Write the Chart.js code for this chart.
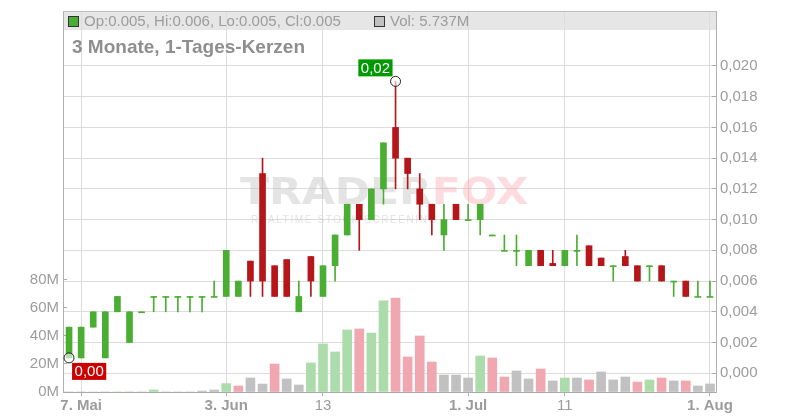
<!DOCTYPE html>
<html><head><meta charset="utf-8">
<style>html,body{margin:0;padding:0;background:#fff;}canvas{display:block;}</style>
<script src="https://cdn.jsdelivr.net/npm/chart.js@4.4.1/dist/chart.umd.min.js"></script>
</head><body>
<canvas id="c" width="800" height="420"></canvas>
<script>
// ---- data ----
const dates = ['2024-05-06','2024-05-07','2024-05-08','2024-05-10','2024-05-13','2024-05-14','2024-05-16','2024-05-17','2024-05-21','2024-05-22','2024-05-24','2024-05-28','2024-05-31',
'2024-06-03','2024-06-04','2024-06-05','2024-06-06','2024-06-07','2024-06-10','2024-06-11','2024-06-12','2024-06-13','2024-06-14','2024-06-17','2024-06-18','2024-06-19','2024-06-20','2024-06-21','2024-06-24','2024-06-25','2024-06-26','2024-06-27','2024-06-28',
'2024-07-01','2024-07-02','2024-07-03','2024-07-04','2024-07-05','2024-07-08','2024-07-09','2024-07-10','2024-07-11','2024-07-12','2024-07-15','2024-07-17','2024-07-18','2024-07-22','2024-07-23','2024-07-25','2024-07-26','2024-07-29','2024-07-30','2024-07-31','2024-08-01'];
const openP  = [0.001,0.001,0.003,0.001,0.004,0.002,0.004,0.005,0.005,0.005,0.005,0.005,0.005,0.005,0.005,0.0073,0.013,0.007,0.0074,0.004,0.0076,0.005,0.007,0.009,0.011,0.010,0.012,0.016,0.014,0.012,0.011,0.009,0.011,0.010,0.010,0.009,0.008,0.008,0.007,0.008,0.00715,0.007,0.008,0.0083,0.0075,0.007,0.0076,0.007,0.007,0.007,0.006,0.006,0.005,0.005];
const highP  = [0.003,0.003,0.004,0.004,0.005,0.004,0.004,0.005,0.005,0.005,0.005,0.005,0.006,0.008,0.006,0.0073,0.014,0.007,0.0074,0.006,0.0076,0.007,0.009,0.011,0.011,0.012,0.015,0.019,0.014,0.013,0.011,0.011,0.011,0.011,0.011,0.009,0.009,0.009,0.008,0.008,0.008,0.008,0.009,0.0083,0.0075,0.007,0.008,0.007,0.007,0.007,0.006,0.006,0.006,0.006];
const lowP   = [0.001,0.001,0.003,0.001,0.004,0.002,0.004,0.004,0.004,0.004,0.004,0.004,0.005,0.005,0.005,0.005,0.005,0.005,0.005,0.004,0.005,0.005,0.006,0.009,0.008,0.010,0.011,0.012,0.012,0.010,0.009,0.008,0.010,0.010,0.009,0.009,0.008,0.007,0.007,0.007,0.007,0.007,0.007,0.007,0.007,0.006,0.007,0.006,0.006,0.006,0.005,0.005,0.005,0.005];
const closeP = [0.003,0.003,0.004,0.004,0.005,0.004,0.004,0.005,0.005,0.005,0.005,0.005,0.005,0.008,0.006,0.006,0.006,0.005,0.005,0.005,0.006,0.007,0.009,0.011,0.010,0.012,0.015,0.014,0.013,0.011,0.010,0.010,0.010,0.010,0.011,0.009,0.008,0.008,0.008,0.007,0.007,0.008,0.008,0.007,0.007,0.007,0.007,0.006,0.007,0.006,0.006,0.005,0.005,0.005];
const volumeM = [0,0,0,0,0,0,0,1.5,0,0,0,0.7,1.4,6,4.3,10,5.7,20,9.3,5,20.7,34.3,28.6,44.3,45,42.1,65,67.1,25,40,21.4,12.1,12.1,10,25.7,24.3,10.7,15,9.3,16.4,7.9,10,10,8.6,14.3,8.6,10.7,7.1,8.6,10,7.9,7.9,4.3,5.737];
const tickDates = ['2024-05-07','2024-06-03','2024-06-13','2024-07-01','2024-07-11','2024-08-01'];
const tickTexts = ['7. Mai','3. Jun','13','1. Jul','11','1. Aug'];
const tickBold  = [true,true,false,true,false,true];
const priceTicks = [0,0.002,0.004,0.006,0.008,0.010,0.012,0.014,0.016,0.018,0.020];
const volTicksM = [0,20,40,60,80];
const titleText = '3 Monate, 1-Tages-Kerzen';

// ---- styles ----
const FONT = '"Liberation Sans", Arial, sans-serif';
const GREEN = '#4aae32', RED = '#b4161a';
const VGREEN = '#acdcaa', VRED = '#f0a7b0', VGREY = '#c1c1c1';
const TXT = '#9c9c9c';

const bodies = openP.map((o,i)=>[o, closeP[i]]);
const wicks = lowP.map((l,i)=>[l, highP[i]]);
const candleColors = openP.map((o,i)=> closeP[i] < o ? RED : GREEN);
const volColors = closeP.map((c,i)=> i===0 ? VGREY : (c > closeP[i-1] ? VGREEN : (c < closeP[i-1] ? VRED : VGREY)));
const volume = volumeM.map(v=>v*1e6);

function tickIdx(i){ return tickDates.indexOf(dates[i]); }
function fmt3(v){ return v.toFixed(3).replace('.', ','); }
function boldLabel(t){ const k = tickTexts.indexOf(t); return k >= 0 && tickBold[k]; }

const overlay = {
  id:'overlay',
  beforeDraw(chart){
    const ctx = chart.ctx, a = chart.chartArea;
    ctx.save();
    ctx.fillStyle = '#e6e6e6';
    ctx.fillRect(a.left, a.top, a.right - a.left, 19);
    ctx.restore();
  },
  beforeDatasetsDraw(chart){
    const ctx = chart.ctx;
    ctx.save();
    ctx.textBaseline = 'alphabetic';
    ctx.font = 'bold 37px "DejaVu Sans", sans-serif';
    ctx.translate(240, 204);
    ctx.scale(1.15, 1);
    ctx.fillStyle = 'rgba(190,190,190,0.42)';
    ctx.fillText('TRADER', 0, 0);
    const w = ctx.measureText('TRADER').width;
    ctx.fillStyle = 'rgba(248,150,160,0.34)';
    ctx.fillText('FOX', w, 0);
    ctx.restore();
    ctx.save();
    ctx.font = '10px ' + FONT;
    try { ctx.letterSpacing = '1.6px'; } catch(e){}
    ctx.fillStyle = 'rgba(190,190,190,0.45)';
    ctx.textBaseline = 'alphabetic';
    ctx.fillText('REALTIME STOCK SCREENING', 251, 223);
    ctx.restore();
  },
  afterDraw(chart){
    const ctx = chart.ctx, a = chart.chartArea;
    const x = chart.scales.x, p = chart.scales.price;
    ctx.save();
    ctx.strokeStyle = '#bdbdbd'; ctx.lineWidth = 1;
    ctx.beginPath(); ctx.moveTo(a.left, a.top + 0.5); ctx.lineTo(a.right, a.top + 0.5); ctx.stroke();
    const n = dates.length - 1;
    ctx.fillStyle = GREEN; ctx.fillRect(68.5, 16.5, 10, 10);
    ctx.strokeStyle = '#333'; ctx.strokeRect(68.5, 16.5, 10, 10);
    ctx.fillStyle = TXT; ctx.font = '15px ' + FONT; ctx.textBaseline = 'middle';
    ctx.fillText('Op:' + openP[n].toFixed(3) + ', Hi:' + highP[n].toFixed(3) + ', Lo:' + lowP[n].toFixed(3) + ', Cl:' + closeP[n].toFixed(3), 84, 22);
    ctx.fillStyle = VGREY; ctx.fillRect(374.5, 16.5, 10, 10);
    ctx.strokeStyle = '#333'; ctx.strokeRect(374.5, 16.5, 10, 10);
    ctx.fillStyle = TXT;
    ctx.fillText('Vol: ' + volumeM[n].toFixed(3) + 'M', 390, 22);
    ctx.fillStyle = '#8e8e8e'; ctx.font = 'bold 19px ' + FONT;
    ctx.fillText(titleText, 72, 48);
    let hi = 0, lo = 0;
    highP.forEach((v,i)=>{ if (v > highP[hi]) hi = i; });
    lowP.forEach((v,i)=>{ if (v < lowP[lo]) lo = i; });
    ctx.font = '15px ' + FONT;
    const drawMarker = (i, val, color, above) => {
      const cx = x.getPixelForValue(i), cy = p.getPixelForValue(val);
      const t = val.toFixed(2).replace('.', ',');
      const tw = ctx.measureText(t).width + 5, th = 17;
      const bx = above ? cx - 3 - tw : cx + 3;
      const by = above ? cy - 5 - th : cy + 5;
      ctx.fillStyle = color; ctx.fillRect(bx, by, tw, th);
      ctx.fillStyle = '#fff'; ctx.textAlign = 'center'; ctx.textBaseline = 'middle';
      ctx.fillText(t, bx + tw/2, by + th/2 + 0.5);
      ctx.textAlign = 'left';
      ctx.beginPath(); ctx.arc(cx, cy, 5, 0, Math.PI*2);
      ctx.fillStyle = 'rgba(255,255,255,0.6)'; ctx.fill();
      ctx.strokeStyle = '#222'; ctx.lineWidth = 1; ctx.stroke();
    };
    drawMarker(hi, highP[hi], '#009a00', true);
    drawMarker(lo, lowP[lo], '#cc0000', false);
    ctx.restore();
  }
};

new Chart(document.getElementById('c'), {
  type: 'bar',
  data: {
    labels: dates,
    datasets: [
      { label:'Body', data: bodies, yAxisID:'price', backgroundColor: candleColors, barThickness: 6, minBarLength: 1, grouped:false, order:0, borderWidth:0 },
      { label:'Wick', data: wicks, yAxisID:'price', backgroundColor: candleColors, barThickness: 1, grouped:false, order:1, borderWidth:0 },
      { label:'Volume', data: volume, yAxisID:'vol', backgroundColor: volColors, barThickness: 9, grouped:false, order:2, borderWidth:0 }
    ]
  },
  options: {
    responsive:false, animation:false, devicePixelRatio:1,
    layout:{ padding:{ top:11, left:0, right:0, bottom:0 } },
    plugins:{ legend:{display:false}, tooltip:{enabled:false}, title:{display:false} },
    scales:{
      x:{
        type:'category', offset:true,
        grid:{ offset:false, color:'#dcdcdc', tickColor:'#aaaaaa', tickLength:4, drawOnChartArea:true },
        border:{ color:'#aaaaaa' },
        ticks:{ autoSkip:false, maxRotation:0, minRotation:0, padding:1, color:TXT,
          callback:(v,i)=>{ const k = tickIdx(i); return k < 0 ? null : tickTexts[k]; },
          font:(c)=>({ family:FONT, size:15, weight: (c.tick && boldLabel(c.tick.label)) ? 'bold' : 'normal' })
        },
        afterFit:(s)=>{ s.height = 28; s.paddingLeft = 0; s.paddingRight = 0; }
      },
      vol:{
        type:'linear', position:'left', min:0, max:272e6,
        afterBuildTicks:(s)=>{ s.ticks = volTicksM.map(v=>({value:v*1e6})); },
        grid:{ drawOnChartArea:false, tickLength:-4, tickColor:'#aaaaaa' },
        border:{ color:'#b0b0b0' },
        ticks:{ padding:8, color:TXT, font:{family:FONT, size:15}, callback:(v)=> Math.round(v/1e6) + 'M' },
        afterFit:(s)=>{ s.width = 63; s.paddingTop = 0; s.paddingBottom = 0; }
      },
      price:{
        type:'linear', position:'right', min:-0.00122, max:0.02358,
        afterBuildTicks:(s)=>{ s.ticks = priceTicks.map(v=>({value:v})); },
        grid:{ color:'#dcdcdc', tickLength:-4, tickColor:'#aaaaaa' },
        border:{ color:'#b0b0b0' },
        ticks:{ padding:8, color:TXT, font:{family:FONT, size:15}, callback:(v)=> fmt3(v) },
        afterFit:(s)=>{ s.width = 84; s.paddingTop = 0; s.paddingBottom = 0; }
      }
    }
  },
  plugins:[overlay]
});
</script>
</body></html>
